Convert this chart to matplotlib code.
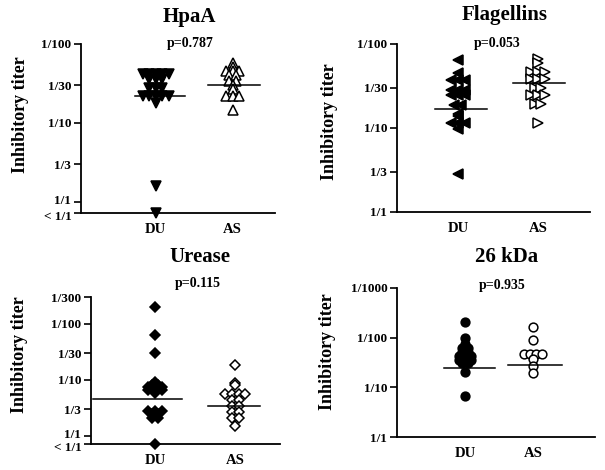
import numpy as np
import matplotlib
matplotlib.use('Agg')
import matplotlib.pyplot as plt
import matplotlib.transforms as mtransforms

plt.rcParams['font.family'] = ['Liberation Serif', 'DejaVu Serif']
plt.rcParams['font.weight'] = 'bold'

#DATA (reciprocal inhibitory titer, "< 1/1" drawn just under 1/1)

LT1 = 0.72

hpaa_du = [42, 42, 42, 42, 42, 36, 36, 36, 28, 28, 28, 22, 22, 22, 22, 22, 18, 1.6, LT1]
hpaa_as = [57, 51, 45, 45, 45, 40, 40, 34, 34, 30, 27, 22, 22, 22, 14.4]
hpaa_med = [22, 30]

flag_du = [64, 45, 37, 37, 37, 28, 28, 28, 24.5, 24.5, 24.5, 19, 19, 14.8, 14,
           11.5, 11.5, 11.5, 9.8, 2.8]
flag_as = [67, 59, 47, 47, 47, 38.5, 38.5, 38.5, 30, 30, 25, 25, 25, 19.5, 19.5, 11.5]
flag_med = [16.7, 34.7]

urease_du = [200, 63, 30, 9, 8, 8, 7.4, 7.4, 7.4, 6.5, 6.5, 6.5, 5.8,
             2.77, 2.77, 2.77, 2.44, 2.44, 2.07, 2.07, LT1]
urease_as = [18.3, 8.7, 8, 5.6, 5.6, 5.6, 5.6, 4.35, 4.35, 3.4, 3.4, 2.65, 2.65,
             2.07, 2.07, 1.5]
urease_med = [4.65, 3.4]

kda_du = [206, 98, 74, 62, 62, 51, 51, 43, 43, 43, 35.5, 35.5, 35.5, 31, 31, 20, 6.7]
kda_as = [163, 89, 47, 47, 47, 47, 37, 27, 19.5]
kda_med = [24.5, 28]

groups = ['DU', 'AS']

ticks_a = [LT1, 1, 3, 10, 30, 100]
labels_a = ['< 1/1', '1/1', '1/3', '1/10', '1/30', '1/100']
ticks_b = [1, 3, 10, 30, 100]
labels_b = ['1/1', '1/3', '1/10', '1/30', '1/100']
ticks_c = [LT1, 1, 3, 10, 30, 100, 300]
labels_c = ['< 1/1', '1/1', '1/3', '1/10', '1/30', '1/100', '1/300']
ticks_d = [1, 10, 100, 1000]
labels_d = ['1/1', '1/10', '1/100', '1/1000']

#FIGURE

W, H = 605, 470
fig = plt.figure(figsize=(W/100, H/100), dpi=100)

def px_rect(l, t, r, b):
    return [l/W, 1 - b/H, (r - l)/W, (b - t)/H]

def swarm(vals, x0, step=0.085):
    vals = np.asarray(vals, dtype=float)
    xs = np.full(len(vals), float(x0))
    for v in np.unique(vals):
        idx = np.where(vals == v)[0]
        n = len(idx)
        xs[idx] = x0 + (np.arange(n) - (n - 1)/2)*step
    return xs

def panel(rect, du, as_, med, marks, ticks, labels, xlim, med_spans):
    ax = fig.add_axes(rect)
    for i, (vals, filled) in enumerate([(du, True), (as_, False)]):
        ax.plot(swarm(vals, i + 1), vals, linestyle='none',
                marker=marks[i], markersize=marks[2],
                markerfacecolor='black' if filled else 'white',
                markeredgecolor='black', markeredgewidth=1.1,
                clip_on=False, zorder=3)
        ax.plot(med_spans[i], [med[i], med[i]], color='black', lw=1.1, zorder=4)
    ax.set_yscale('log')
    ax.set_ylim(ticks[0], ticks[-1])
    ax.set_yticks(ticks)
    ax.set_yticklabels(labels)
    ax.minorticks_off()
    ax.set_xlim(*xlim)
    ax.set_xticks([1, 2])
    ax.set_xticklabels(groups)
    for s in ['top', 'right']:
        ax.spines[s].set_visible(False)
    for s in ['left', 'bottom']:
        ax.spines[s].set_linewidth(1.3)
    ax.tick_params(axis='y', length=5, width=1.2, pad=2, labelsize=9.5)
    ax.tick_params(axis='x', length=0, pad=7, labelsize=10.5)
    ax.set_facecolor('none')
    # pull the "1/1" and "< 1/1" labels apart a little
    if ticks[0] == LT1:
        lbls = ax.get_yticklabels()
        lbls[0].set_transform(lbls[0].get_transform() +
                              mtransforms.ScaledTranslation(0, -2/72, fig.dpi_scale_trans))
        lbls[1].set_transform(lbls[1].get_transform() +
                              mtransforms.ScaledTranslation(0, 1.5/72, fig.dpi_scale_trans))
    return ax

def label_block(title, tx, ty, pval, px, py, lx, ly):
    fig.text(tx/W, 1 - ty/H, title, ha='center', va='center', fontsize=15, fontweight='bold')
    fig.text(px/W, 1 - py/H, pval, ha='center', va='center', fontsize=10, fontweight='bold')
    fig.text(lx/W, 1 - ly/H, 'Inhibitory titer', ha='center', va='center',
             rotation=90, fontsize=13, fontweight='bold')

#PANELS

panel(px_rect(81, 44, 275, 213), hpaa_du, hpaa_as, hpaa_med, ('v', '^', 7),
      ticks_a, labels_a, (0.03, 2.55), [(0.73, 1.38), (1.68, 2.35)])
label_block('HpaA', 189, 17, 'p=0.787', 190, 43, 21, 115)

panel(px_rect(397, 44, 590, 212), flag_du, flag_as, flag_med, ('<', '>', 7),
      ticks_b, labels_b, (0.24, 2.65), [(0.71, 1.36), (1.69, 2.34)])
label_block('Flagellins', 505, 15, 'p=0.053', 497, 43, 330, 122)

panel(px_rect(91, 297, 280, 444), urease_du, urease_as, urease_med, ('D', 'D', 5.3),
      ticks_c, labels_c, (0.2, 2.56), [(0.22, 1.34), (1.66, 2.31)])
label_block('Urease', 200, 257, 'p=0.115', 198, 283, 20, 355)

panel(px_rect(397, 288, 595, 437), kda_du, kda_as, kda_med, ('o', 'o', 6.3),
      ticks_d, labels_d, (0.0, 2.91), [(0.69, 1.44), (1.63, 2.43)])
label_block('26 kDa', 507, 257, 'p=0.935', 502, 285, 327, 352)

fig.savefig('out.png', dpi=100)
